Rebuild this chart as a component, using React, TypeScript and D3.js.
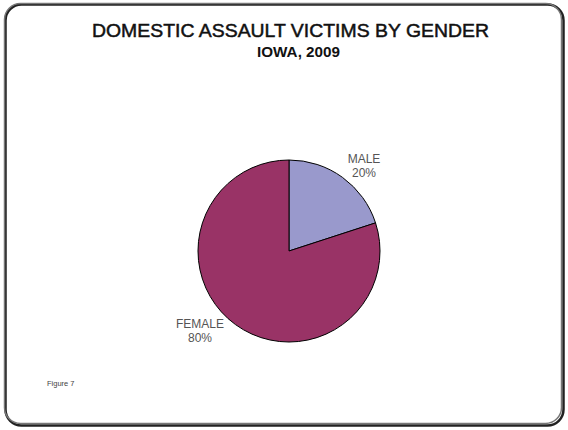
import React from "react";
import * as d3 from "d3";

const categories = ["MALE", "FEMALE"];
const values = [20, 80];
const colors = ["#9999CC", "#993366"];
const titleText = "DOMESTIC ASSAULT VICTIMS BY GENDER";
const subtitleText = "IOWA, 2009";
const figureText = "Figure 7";

export default function App() {
  const W = 568, H = 430;
  const cx = 289, cy = 251, r = 91;
  const pie = d3.pie<number>().sort(null).value((d) => d);
  const arcs = pie(values);
  const arcGen = d3.arc<d3.PieArcDatum<number>>().innerRadius(0).outerRadius(r);
  const labelPos = [
    { x: 364, y: 163 },
    { x: 200, y: 328 },
  ];
  return (
    <svg width={W} height={H} style={{ position: "absolute", left: 0, top: 0 }} fontFamily="Arial, 'Liberation Sans', sans-serif">
      <rect x={0} y={0} width={W} height={H} fill="#fff" />
      <rect x={5.5} y={4.5} width={558} height={421} rx={16} fill="none" stroke="#222" strokeWidth={2.5} />
      <rect x={4.5} y={3.5} width={557} height={420} rx={16} fill="none" stroke="#777" strokeWidth={1.5} />
      <text x={92} y={37} fontSize={19} fill="#111" stroke="#111" strokeWidth={0.5} textLength={397} lengthAdjust="spacingAndGlyphs">{titleText}</text>
      <text x={257} y={57} fontSize={14} fontWeight="bold" fill="#111" textLength={83} lengthAdjust="spacingAndGlyphs">{subtitleText}</text>
      <g transform={`translate(${cx},${cy})`}>
        {arcs.map((a, i) => (
          <path key={i} d={arcGen(a) || ""} fill={colors[i]} stroke="#000" strokeWidth={1} />
        ))}
      </g>
      {categories.map((c, i) => (
        <g key={c} fill="#555" fontSize={12} textAnchor="middle">
          <text x={labelPos[i].x} y={labelPos[i].y}>{c}</text>
          <text x={labelPos[i].x} y={labelPos[i].y + 14}>{values[i]}%</text>
        </g>
      ))}
      <text x={47} y={386} fontSize={7.5} fill="#444">{figureText}</text>
    </svg>
  );
}
